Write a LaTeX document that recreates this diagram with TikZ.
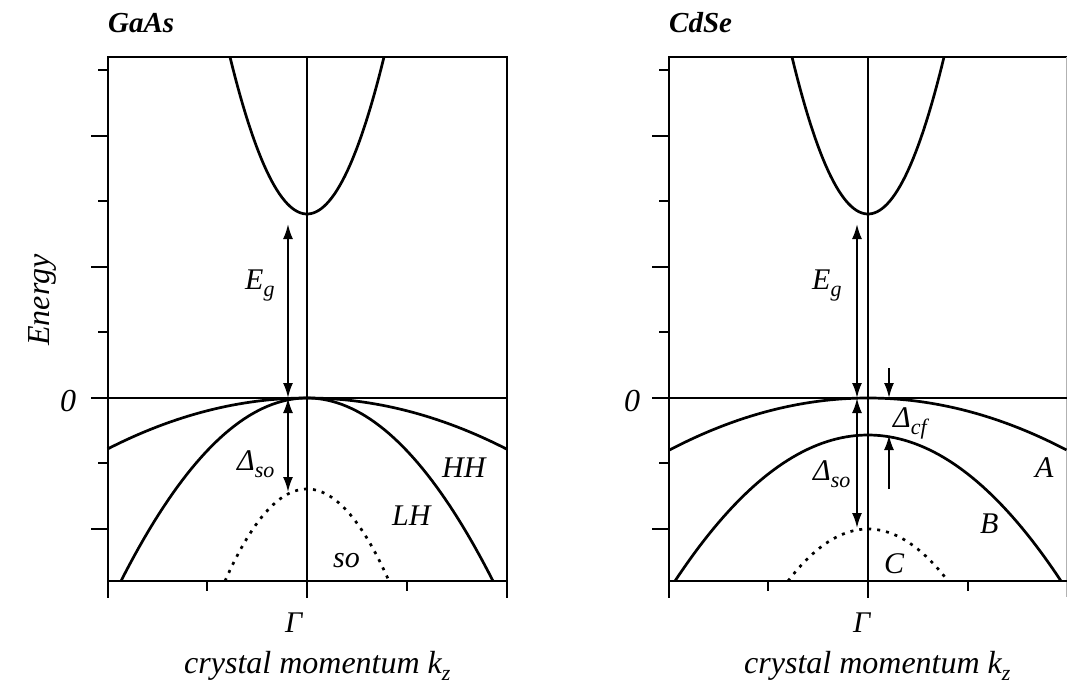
\documentclass[tikz,border=0pt]{standalone}
\usepackage{fontspec}
\setmainfont{Liberation Serif}
\usetikzlibrary{arrows.meta}
\newcommand\sbs[1]{\raisebox{-7pt}{\fontsize{22}{22}\selectfont #1}}
\begin{document}
\begin{tikzpicture}[x=1pt,y=-1pt,
 frame/.style={line width=2.9pt, line cap=rect},
 band/.style={line width=2.7pt},
 sob/.style={line width=2.7pt, dash pattern=on 3pt off 6pt},
 tip/.style={line width=2pt},
 dim/.style={tip, {Latex[length=15pt,width=10pt]}-{Latex[length=15pt,width=10pt]}},
 one/.style={tip, -{Latex[length=15pt,width=10pt]}},
 lab/.style={font=\fontsize{30}{32}\selectfont\itshape, inner sep=0pt, anchor=base west},
 axl/.style={font=\fontsize{32}{34}\selectfont\itshape, inner sep=0pt, anchor=base west},
 ttl/.style={font=\fontsize{29}{30}\selectfont\bfseries\itshape, inner sep=0pt, anchor=base west},
]
\useasboundingbox (0,0) rectangle (1067,685);

% ---------- left panel frame ----------
\draw[frame] (108,597) -- (108,57) -- (507,57) -- (507,597);
\draw[frame] (108,581) -- (507,581);
\draw[frame] (307,57) -- (307,597);
\draw[frame] (92,398) -- (507,398);
\foreach \y in {70,201,332,463} \draw[frame] (99,\y) -- (108,\y);
\foreach \y in {136,267,529} \draw[frame] (92,\y) -- (108,\y);
\foreach \x in {207,407} \draw[frame] (\x,581) -- (\x,590);

% ---------- right panel frame ----------
\draw[frame] (669,597) -- (669,57) -- (1067,57);
\draw[line width=1pt, gray!60] (1066.5,57) -- (1066.5,597);
\draw[frame] (669,581) -- (1067,581);
\draw[frame] (868,57) -- (868,597);
\draw[frame] (653,398) -- (1067,398);
\foreach \y in {70,201,332,463} \draw[frame] (660,\y) -- (669,\y);
\foreach \y in {136,267,529} \draw[frame] (653,\y) -- (669,\y);
\foreach \x in {768,968} \draw[frame] (\x,581) -- (\x,590);

% ---------- left bands ----------
\draw[band] plot[domain=-1:1, samples=60] ({307+77*\x},{214-157*\x*\x});
\draw[band] plot[domain=-1:1, samples=80] ({307+199.5*\x},{398+51*\x*\x});
\draw[band] plot[domain=-1:1, samples=80] ({307+186*\x},{398+183*\x*\x});
\draw[sob] plot[domain=-1:1, samples=60] ({307+82*\x},{489+92*\x*\x});

% ---------- right bands ----------
\draw[band] plot[domain=-1:1, samples=60] ({868+76*\x},{214-157*\x*\x});
\draw[band] plot[domain=-1:1, samples=80] ({868+198.5*\x},{398+52*\x*\x});
\draw[band] plot[domain=-1:1, samples=80] ({868+193*\x},{435+146*\x*\x});
\draw[sob] plot[domain=-1:1, samples=60] ({868+80*\x},{529+52*\x*\x});

% ---------- arrows ----------
\coordinate (egL) at (288,224);
\coordinate (zL) at (288,398);
\coordinate (soL) at (288,492);
\draw[dim] (egL) -- (zL);
\draw[dim] (zL) -- (soL);
\coordinate (egR) at (857,224);
\coordinate (zR) at (857,398);
\coordinate (soR) at (857,528);
\draw[dim] (egR) -- (zR);
\draw[dim] (zR) -- (soR);
\coordinate (cfA) at (889,368);
\coordinate (cfB) at (889,398);
\coordinate (cfC) at (889,489);
\coordinate (cfD) at (889,435);
\draw[one] (cfA) -- (cfB);
\draw[one] (cfC) -- (cfD);

% ---------- labels ----------
\node[ttl] (tA) at (108,33) {GaAs};
\node[ttl] (tB) at (669,33) {CdSe};
\node[axl, anchor=center, rotate=90] (en) at (42,300) {Energy};
\node[axl] (z1) at (60,411) {0};
\node[axl] (z2) at (624,411) {0};
\node[lab] (eg1) at (245,289) {E\sbs{g}};
\node[lab] (eg2) at (812,289) {E\sbs{g}};
\node[lab] (so1) at (237,470) {Δ\sbs{so}};
\node[lab] (so2) at (813,480) {Δ\sbs{so}};
\node[lab] (cf) at (893,427) {Δ\sbs{cf}};
\node[lab] (hh) at (442,477) {HH};
\node[lab] (lh) at (392,525) {LH};
\node[lab] (so) at (333,567) {so};
\node[lab] (bA) at (1035,477) {A};
\node[lab] (bB) at (980,533) {B};
\node[lab] (bC) at (884,573) {C};
\node[lab] (g1) at (285,632) {Γ};
\node[lab] (g2) at (853,632) {Γ};
\node[axl] (k1) at (184,673) {crystal momentum k\sbs{z}};
\node[axl] (k2) at (744,673) {crystal momentum k\sbs{z}};
\end{tikzpicture}
\end{document}
